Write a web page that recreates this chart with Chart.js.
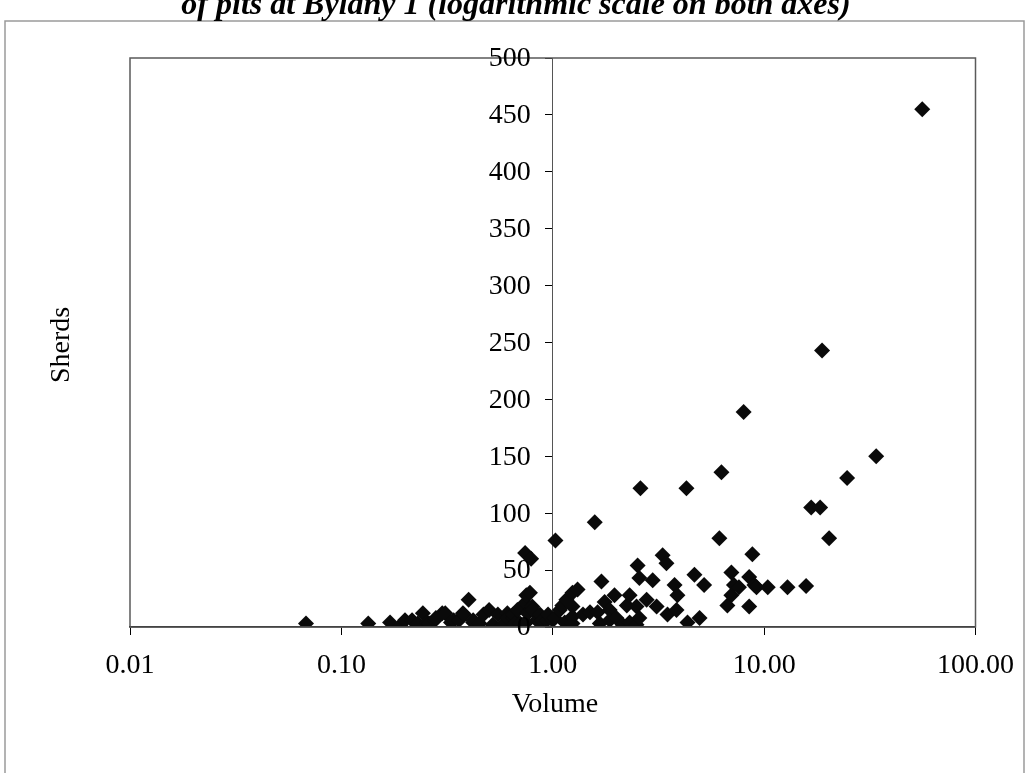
<!DOCTYPE html>
<html>
<head>
<meta charset="utf-8">
<script src="https://cdn.jsdelivr.net/npm/chart.js@4.4.0/dist/chart.umd.min.js"></script>
<style>
  html, body { margin: 0; padding: 0; background: #fff; }
  #myChart { display: block; }
</style>
</head>
<body>
<canvas id="myChart" width="1028" height="773"></canvas>
<script>
// pits: volume (log scale) against number of sherds
const volumes = [
  0.068, 0.134, 0.17, 0.19, 0.20, 0.216, 0.23, 0.243, 0.254, 0.26,
  0.277, 0.28, 0.30, 0.31, 0.33, 0.34, 0.36, 0.376, 0.38, 0.40,
  0.42, 0.42, 0.45, 0.47, 0.50, 0.52, 0.55, 0.58, 0.61, 0.61,
  0.65, 0.65, 0.66, 0.68, 0.70, 0.74, 0.74, 0.75, 0.75, 0.76,
  0.78, 0.79, 0.80, 0.80, 0.84, 0.87, 0.87, 0.89, 0.94, 0.95,
  1.00, 1.02, 1.03, 1.08, 1.11, 1.14, 1.16, 1.24, 1.24, 1.24,
  1.24, 1.31, 1.39, 1.50, 1.58, 1.63, 1.67, 1.70, 1.76, 1.86,
  1.86, 1.96, 2.00, 2.14, 2.24, 2.31, 2.31, 2.49, 2.49, 2.52,
  2.57, 2.57, 2.60, 2.78, 2.97, 3.10, 3.31, 3.45, 3.49, 3.77,
  3.85, 3.89, 4.29, 4.34, 4.68, 4.95, 5.20, 6.14, 6.28, 6.70,
  7.00, 7.00, 7.20, 7.60, 8.00, 8.50, 8.50, 8.80, 9.00, 9.20,
  10.4, 12.9, 15.8, 16.7, 18.4, 18.8, 20.3, 24.7, 33.9, 56.0
];
const sherds = [
  3, 3, 4, 1, 6, 6, 3, 12, 4, 3,
  6, 8, 12, 12, 4, 6, 6, 12, 11, 24,
  4, 6, 3, 11, 15, 2, 11, 2, 12, 8,
  8, 11, 3, 15, 3, 21, 65, 28, 4, 12,
  30, 60, 18, 15, 6, 4, 11, 6, 6, 11,
  6, 8, 76, 15, 19, 4, 24, 30, 18, 9,
  3, 33, 11, 13, 92, 13, 3, 40, 22, 15,
  6, 28, 8, 2, 19, 28, 4, 18, 2, 54,
  43, 8, 122, 24, 41, 18, 63, 56, 11, 37,
  15, 28, 122, 4, 46, 8, 37, 78, 136, 19,
  48, 28, 37, 35, 189, 44, 18, 64, 37, 35,
  35, 35, 36, 105, 105, 243, 78, 131, 150, 455
];
const xTicks = [0.01, 0.1, 1, 10, 100];

const serif = '"Liberation Serif", "Times New Roman", serif';
const tickFont = { family: serif, size: 28 };

// page frame, title, plot border, y labels beside the crossing axis, axis titles
const decorations = {
  id: 'decorations',
  beforeDraw(chart) {
    const ctx = chart.ctx;
    ctx.save();
    ctx.fillStyle = '#fff';
    ctx.fillRect(0, 0, chart.width, chart.height);
    ctx.strokeStyle = '#9a9a9a';
    ctx.lineWidth = 1.5;
    ctx.beginPath();
    ctx.moveTo(5, 773);
    ctx.lineTo(5, 21);
    ctx.lineTo(1024, 21);
    ctx.lineTo(1024, 773);
    ctx.stroke();
    ctx.restore();
  },
  afterDraw(chart) {
    const ctx = chart.ctx;
    const a = chart.chartArea;
    const xs = chart.scales.x;
    const ys = chart.scales.y;
    ctx.save();
    ctx.strokeStyle = '#5a5a5a';
    ctx.lineWidth = 1.5;
    ctx.strokeRect(a.left, a.top, a.right - a.left, a.bottom - a.top);

    ctx.fillStyle = '#000';
    ctx.font = '28px ' + serif;
    ctx.textAlign = 'right';
    ctx.textBaseline = 'middle';
    const axisX = xs.getPixelForValue(1);
    ys.ticks.forEach(t => {
      ctx.fillText(String(t.value), axisX - 22, ys.getPixelForValue(t.value) + 1);
    });

    ctx.textAlign = 'center';
    ctx.fillText('Volume', 555, 705);
    ctx.save();
    ctx.translate(62, 345);
    ctx.rotate(-Math.PI / 2);
    ctx.fillText('Sherds', 0, 0);
    ctx.restore();

    ctx.textBaseline = 'alphabetic';
    ctx.font = 'bold italic 32px ' + serif;
    ctx.fillText('of pits at Bylany 1 (logarithmic scale on both axes)', 516, 14);
    ctx.restore();
  }
};

new Chart(document.getElementById('myChart'), {
  type: 'scatter',
  data: {
    datasets: [{
      label: 'Sherds',
      data: volumes.map((v, i) => ({ x: v, y: sherds[i] })),
      pointStyle: 'rectRot',
      pointRadius: 8,
      pointHoverRadius: 8,
      backgroundColor: '#0a0a0a',
      borderColor: '#0a0a0a',
      borderWidth: 0
    }]
  },
  options: {
    responsive: false,
    animation: false,
    layout: { padding: { left: 130, right: 47, top: 58, bottom: 0 } },
    plugins: {
      legend: { display: false },
      title: { display: false },
      tooltip: { enabled: false }
    },
    scales: {
      x: {
        type: 'logarithmic',
        position: 'bottom',
        min: 0.01,
        max: 100,
        afterBuildTicks: s => { s.ticks = xTicks.map(v => ({ value: v })); },
        afterFit: s => { s.height = 146; },
        ticks: {
          font: tickFont,
          color: '#000',
          padding: 14,
          maxRotation: 0,
          autoSkip: false,
          callback: v => Number(v).toFixed(2)
        },
        grid: { drawOnChartArea: false, tickLength: 8, color: '#000', lineWidth: 1 },
        border: { color: '#000', width: 1.5 }
      },
      y: {
        position: { x: 1 },
        min: 0,
        max: 500,
        ticks: { stepSize: 50, display: false },
        grid: { drawOnChartArea: false, tickLength: 7, color: '#000', lineWidth: 1 },
        border: { color: '#555', width: 1 }
      }
    }
  },
  plugins: [decorations]
});
</script>
</body>
</html>
